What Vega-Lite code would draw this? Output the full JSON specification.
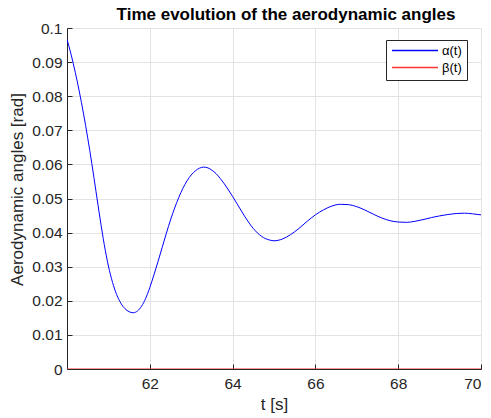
{
  "$schema": "https://vega.github.io/schema/vega-lite/v6.json",
  "autosize": "none",
  "width": 414,
  "height": 341,
  "padding": {"left": 67, "top": 28, "right": 10, "bottom": 49},
  "background": "white",
  "config": {
    "view": {"stroke": null},
    "font": "Liberation Sans",
    "axis": {
      "labelFont": "Liberation Sans",
      "titleFont": "Liberation Sans",
      "labelFontSize": 15.5,
      "titleFontSize": 17,
      "titleFontWeight": "normal",
      "labelColor": "#262626",
      "titleColor": "#262626",
      "domainColor": "#262626",
      "tickColor": "#262626",
      "gridColor": "#e3e3e3",
      "gridOpacity": 1,
      "tickSize": -5,
      "domainWidth": 1,
      "labelPadding": 10
    }
  },
  "title": {
    "text": "Time evolution of the aerodynamic angles",
    "font": "Liberation Sans",
    "fontSize": 17,
    "fontWeight": "bold",
    "color": "#000000",
    "anchor": "middle",
    "frame": "group",
    "baseline": "bottom",
    "offset": 3,
    "dx": 12,
    "dy": 23
  },
  "data": {
    "values": [
      {"t": 60.0, "v": 0.0967, "s": "α(t)"},
      {"t": 60.1, "v": 0.0922, "s": "α(t)"},
      {"t": 60.2, "v": 0.087, "s": "α(t)"},
      {"t": 60.3, "v": 0.0812, "s": "α(t)"},
      {"t": 60.4, "v": 0.0748, "s": "α(t)"},
      {"t": 60.5, "v": 0.0678, "s": "α(t)"},
      {"t": 60.6, "v": 0.0602, "s": "α(t)"},
      {"t": 60.7, "v": 0.0521, "s": "α(t)"},
      {"t": 60.8, "v": 0.044, "s": "α(t)"},
      {"t": 60.9, "v": 0.0365, "s": "α(t)"},
      {"t": 61.0, "v": 0.0302, "s": "α(t)"},
      {"t": 61.1, "v": 0.0254, "s": "α(t)"},
      {"t": 61.2, "v": 0.0218, "s": "α(t)"},
      {"t": 61.3, "v": 0.0193, "s": "α(t)"},
      {"t": 61.4, "v": 0.0177, "s": "α(t)"},
      {"t": 61.5, "v": 0.0168, "s": "α(t)"},
      {"t": 61.6, "v": 0.0165, "s": "α(t)"},
      {"t": 61.7, "v": 0.017, "s": "α(t)"},
      {"t": 61.8, "v": 0.0184, "s": "α(t)"},
      {"t": 61.9, "v": 0.0207, "s": "α(t)"},
      {"t": 62.0, "v": 0.0239, "s": "α(t)"},
      {"t": 62.1, "v": 0.0276, "s": "α(t)"},
      {"t": 62.2, "v": 0.0316, "s": "α(t)"},
      {"t": 62.3, "v": 0.0357, "s": "α(t)"},
      {"t": 62.4, "v": 0.0398, "s": "α(t)"},
      {"t": 62.5, "v": 0.0437, "s": "α(t)"},
      {"t": 62.6, "v": 0.0472, "s": "α(t)"},
      {"t": 62.7, "v": 0.0503, "s": "α(t)"},
      {"t": 62.8, "v": 0.053, "s": "α(t)"},
      {"t": 62.9, "v": 0.0552, "s": "α(t)"},
      {"t": 63.0, "v": 0.0569, "s": "α(t)"},
      {"t": 63.1, "v": 0.0581, "s": "α(t)"},
      {"t": 63.2, "v": 0.0589, "s": "α(t)"},
      {"t": 63.3, "v": 0.0592, "s": "α(t)"},
      {"t": 63.4, "v": 0.059, "s": "α(t)"},
      {"t": 63.5, "v": 0.0583, "s": "α(t)"},
      {"t": 63.6, "v": 0.0573, "s": "α(t)"},
      {"t": 63.7, "v": 0.0559, "s": "α(t)"},
      {"t": 63.8, "v": 0.0543, "s": "α(t)"},
      {"t": 63.9, "v": 0.0525, "s": "α(t)"},
      {"t": 64.0, "v": 0.0506, "s": "α(t)"},
      {"t": 64.1, "v": 0.0486, "s": "α(t)"},
      {"t": 64.2, "v": 0.0466, "s": "α(t)"},
      {"t": 64.3, "v": 0.0446, "s": "α(t)"},
      {"t": 64.4, "v": 0.0428, "s": "α(t)"},
      {"t": 64.5, "v": 0.0412, "s": "α(t)"},
      {"t": 64.6, "v": 0.0399, "s": "α(t)"},
      {"t": 64.7, "v": 0.0389, "s": "α(t)"},
      {"t": 64.8, "v": 0.0382, "s": "α(t)"},
      {"t": 64.9, "v": 0.0378, "s": "α(t)"},
      {"t": 65.0, "v": 0.0376, "s": "α(t)"},
      {"t": 65.2, "v": 0.0381, "s": "α(t)"},
      {"t": 65.4, "v": 0.0394, "s": "α(t)"},
      {"t": 65.6, "v": 0.0412, "s": "α(t)"},
      {"t": 65.8, "v": 0.0433, "s": "α(t)"},
      {"t": 66.0, "v": 0.0452, "s": "α(t)"},
      {"t": 66.2, "v": 0.0467, "s": "α(t)"},
      {"t": 66.4, "v": 0.0478, "s": "α(t)"},
      {"t": 66.6, "v": 0.0483, "s": "α(t)"},
      {"t": 66.8, "v": 0.0482, "s": "α(t)"},
      {"t": 67.0, "v": 0.0476, "s": "α(t)"},
      {"t": 67.2, "v": 0.0466, "s": "α(t)"},
      {"t": 67.4, "v": 0.0454, "s": "α(t)"},
      {"t": 67.6, "v": 0.0443, "s": "α(t)"},
      {"t": 67.8, "v": 0.0435, "s": "α(t)"},
      {"t": 68.0, "v": 0.0431, "s": "α(t)"},
      {"t": 68.2, "v": 0.043, "s": "α(t)"},
      {"t": 68.4, "v": 0.0433, "s": "α(t)"},
      {"t": 68.6, "v": 0.0438, "s": "α(t)"},
      {"t": 68.8, "v": 0.0444, "s": "α(t)"},
      {"t": 69.0, "v": 0.0449, "s": "α(t)"},
      {"t": 69.2, "v": 0.0453, "s": "α(t)"},
      {"t": 69.4, "v": 0.0456, "s": "α(t)"},
      {"t": 69.6, "v": 0.0457, "s": "α(t)"},
      {"t": 69.8, "v": 0.0455, "s": "α(t)"},
      {"t": 70.0, "v": 0.0452, "s": "α(t)"},
      {"t": 60.0, "v": 0, "s": "β(t)"},
      {"t": 65.0, "v": 0, "s": "β(t)"},
      {"t": 70.0, "v": 0, "s": "β(t)"}
    ]
  },
  "mark": {"type": "line", "strokeWidth": 1, "interpolate": "monotone", "clip": true},
  "encoding": {
    "x": {
      "field": "t",
      "type": "quantitative",
      "title": "t [s]",
      "scale": {"domain": [60, 70], "nice": false, "zero": false},
      "axis": {"values": [62, 64, 66, 68, 70], "format": "d", "titlePadding": 4.5, "labelPadding": 12.5}
    },
    "y": {
      "field": "v",
      "type": "quantitative",
      "title": "Aerodynamic angles [rad]",
      "scale": {"domain": [0, 0.1], "nice": false},
      "axis": {
        "values": [0, 0.01, 0.02, 0.03, 0.04, 0.05, 0.06, 0.07, 0.08, 0.09, 0.1],
        "format": ".2~f",
        "labelFlush": false,
        "titleX": -49.5,
        "titleY": 161,
        "titleAngle": 270,
        "titleBaseline": "middle",
        "titleAlign": "center"
      }
    },
    "color": {
      "field": "s",
      "type": "nominal",
      "scale": {"domain": ["α(t)", "β(t)"], "range": ["#0000ff", "#ff3333"]},
      "legend": {
        "title": null,
        "orient": "none",
        "legendX": 319,
        "legendY": 12,
        "symbolType": "stroke",
        "symbolSize": 2116,
        "symbolStrokeWidth": 1.5,
        "clipHeight": 11,
        "rowPadding": 3,
        "labelFontSize": 13,
        "labelFont": "Liberation Sans",
        "labelColor": "#000000",
        "labelOffset": 3,
        "padding": 5,
        "strokeColor": "#262626",
        "fillColor": "white"
      }
    }
  }
}
